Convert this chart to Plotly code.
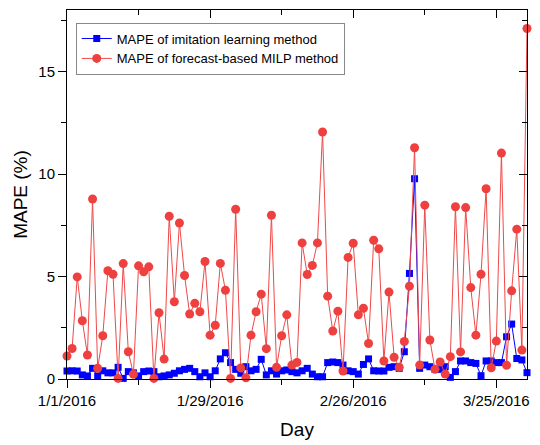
import pandas as pd
import plotly.graph_objects as go

days = pd.date_range("2016-01-01", "2016-03-31", freq="D")

mape_imitation = [
    0.39, 0.40, 0.39, 0.20, 0.15, 0.52, 0.15, 0.40, 0.30, 0.30,
    0.57, 0.03, 0.36, 0.30, 0.15, 0.36, 0.39, 0.36, 0.11, 0.15,
    0.20, 0.28, 0.40, 0.47, 0.52, 0.36, 0.11, 0.30, 0.11, 0.40,
    0.98, 1.28, 0.80, 0.47, 0.28, 0.60, 0.40, 0.47, 0.96, 0.20,
    0.40, 0.24, 0.40, 0.44, 0.36, 0.30, 0.40, 0.52, 0.24, 0.11,
    0.11, 0.80, 0.83, 0.80, 0.68, 0.40, 0.36, 0.24, 0.71, 0.98,
    0.40, 0.39, 0.39, 0.57, 0.60, 0.52, 1.33, 5.15, 9.77, 0.52,
    0.68, 0.60, 0.47, 0.47, 0.60, 0.08, 0.36, 0.88, 0.88, 0.80,
    0.76, 0.16, 0.88, 0.88, 0.80, 0.80, 2.06, 2.68, 1.00, 0.93,
    0.31,
]

mape_milp = [
    1.12, 1.49, 4.98, 2.84, 1.17, 8.78, 0.52, 2.11, 5.28, 5.11,
    0.03, 5.63, 1.33, 0.23, 5.52, 5.23, 5.47, 0.03, 3.23, 0.97,
    7.94, 3.77, 7.61, 5.05, 3.17, 3.69, 3.28, 5.73, 2.14, 2.62,
    5.64, 4.33, 0.03, 8.28, 0.54, 0.06, 2.14, 3.28, 4.14, 1.48,
    7.99, 0.57, 2.11, 3.13, 0.68, 0.81, 6.64, 5.10, 5.54, 6.64,
    12.05, 4.04, 2.34, 3.31, 0.39, 5.93, 6.62, 3.13, 3.45, 1.73,
    6.77, 6.35, 0.88, 4.24, 1.06, 0.57, 1.83, 4.53, 11.28, 0.68,
    8.48, 1.90, 0.47, 0.83, 0.24, 1.09, 8.40, 1.32, 8.36, 4.46,
    2.14, 5.11, 9.28, 0.55, 1.85, 11.02, 0.67, 4.30, 7.31, 1.41,
    17.10,
]

x_tickvals = ["2016-01-01", "2016-01-29", "2016-02-26", "2016-03-25"]
x_ticktext = ["1/1/2016", "1/29/2016", "2/26/2016", "3/25/2016"]
y_tickvals = [0, 5, 10, 15]

FONT = "Arial, Liberation Sans, sans-serif"

fig = go.Figure()
# invisible trace hosting the mirrored (inside) ticks on top/right
fig.add_trace(go.Scatter(x=days, y=mape_milp, xaxis="x2", yaxis="y2",
                         mode="none", showlegend=False, hoverinfo="skip"))
fig.add_trace(go.Scatter(
    x=days, y=mape_imitation, mode="lines+markers",
    name="MAPE of imitation learning method",
    line=dict(color="#0000FF", width=1),
    marker=dict(symbol="square", size=7, color="#0000FF"),
    cliponaxis=False,
))
fig.add_trace(go.Scatter(
    x=days, y=mape_milp, mode="lines+markers",
    name="MAPE of forecast-based MILP method",
    line=dict(color="#F04848", width=1),
    marker=dict(symbol="circle", size=9, color="#EF4040"),
    cliponaxis=False,
))

xr = ["2016-01-01", "2016-03-31"]
yr = [0, 18]
DAY_MS = 86400000
fig.update_layout(
    width=540, height=445,
    margin=dict(l=67, r=13, t=10, b=66),
    paper_bgcolor="white", plot_bgcolor="white",
    font=dict(family=FONT, color="black", size=15),
    showlegend=True,
    legend=dict(
        x=0.019, y=0.966, xanchor="left", yanchor="top",
        bordercolor="#888888", borderwidth=1, bgcolor="white",
        font=dict(size=13, family=FONT), tracegroupgap=0,
        itemwidth=30,
    ),
    xaxis=dict(
        type="date", range=xr, tickvals=x_tickvals, ticktext=x_ticktext,
        ticks="outside", ticklen=8, tickwidth=1, tickcolor="black",
        showline=True, linecolor="black", linewidth=1, showgrid=False,
        zeroline=False, automargin=False,
        minor=dict(dtick=14 * DAY_MS, tick0="2016-01-01", ticks="outside",
                   ticklen=5, tickcolor="black", showgrid=False),
        title=dict(text="Day", font=dict(size=19, family=FONT), standoff=14),
        tickfont=dict(size=15),
    ),
    yaxis=dict(
        range=yr, tickvals=y_tickvals,
        ticks="outside", ticklen=8, tickwidth=1, tickcolor="black",
        showline=True, linecolor="black", linewidth=1, showgrid=False,
        zeroline=False, automargin=False,
        minor=dict(dtick=2.5, ticks="outside", ticklen=5,
                   tickcolor="black", showgrid=False),
        title=dict(text="MAPE (%)", font=dict(size=19, family=FONT), standoff=5),
        tickfont=dict(size=15),
    ),
    xaxis2=dict(
        type="date", overlaying="x", side="top", range=xr,
        tickvals=x_tickvals, showticklabels=False,
        ticks="inside", ticklen=8, tickcolor="black",
        showline=True, linecolor="black", linewidth=1, showgrid=False,
        zeroline=False, automargin=False,
        minor=dict(dtick=14 * DAY_MS, tick0="2016-01-01", ticks="inside",
                   ticklen=5, tickcolor="black", showgrid=False),
    ),
    yaxis2=dict(
        overlaying="y", side="right", range=yr, tickvals=y_tickvals,
        showticklabels=False, ticks="inside", ticklen=8, tickcolor="black",
        showline=True, linecolor="black", linewidth=1, showgrid=False,
        zeroline=False, automargin=False,
        minor=dict(dtick=2.5, ticks="inside", ticklen=5,
                   tickcolor="black", showgrid=False),
    ),
)

fig.write_html("out.html",
               config={"displayModeBar": False},
               post_script="document.body.style.margin='0';"
                           "document.body.style.overflow='hidden';")
